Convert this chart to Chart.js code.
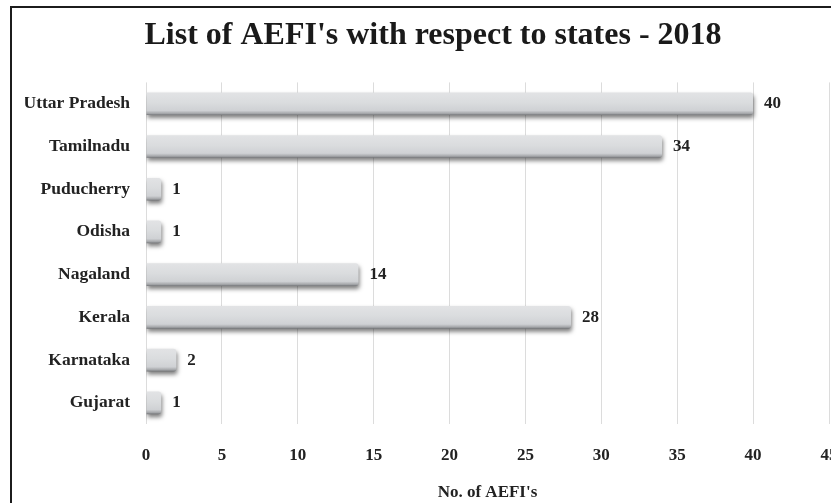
<!DOCTYPE html>
<html>
<head>
<meta charset="utf-8">
<script src="https://cdn.jsdelivr.net/npm/chart.js@4/dist/chart.umd.min.js"></script>
<style>
  html, body { margin: 0; padding: 0; background: #ffffff; overflow: hidden; width: 831px; height: 503px; }
  #frame { position: absolute; left: 10px; top: 6px; width: 847px; height: 497px;
           border-left: 2px solid #1c1c1c; border-top: 2px solid #1c1c1c; background: #fff; }
  #wrap { position: relative; width: 847px; height: 495px; }
</style>
</head>
<body>
<div id="frame"><div id="wrap"><canvas id="c"></canvas></div></div>
<script>
const titleText = "List of AEFI's with respect to states - 2018";
const axisTitle = "No. of AEFI's";
const states = ["Uttar Pradesh", "Tamilnadu", "Puducherry", "Odisha", "Nagaland", "Kerala", "Karnataka", "Gujarat"];
const aefiCounts = [40, 34, 1, 1, 14, 28, 2, 1];
const xTicks = [0, 5, 10, 15, 20, 25, 30, 35, 40, 45];

const FONT = "'Liberation Serif', 'Times New Roman', serif";
const BAR_FRACTION = 0.53;

function barFill(ctx) {
  const chart = ctx.chart;
  const ys = chart.scales && chart.scales.y;
  if (!chart.chartArea || !ys) return '#d6d8db';
  const cy = ys.getPixelForValue(ctx.dataIndex);
  const band = chart.chartArea.height / states.length;
  const half = band * BAR_FRACTION / 2;
  const g = chart.ctx.createLinearGradient(0, cy - half, 0, cy + half);
  g.addColorStop(0, '#e2e3e5');
  g.addColorStop(0.45, '#dadcde');
  g.addColorStop(0.8, '#cfd1d4');
  g.addColorStop(0.93, '#a4a6a9');
  g.addColorStop(1, '#737578');
  return g;
}

const shadowAndLabels = {
  id: 'shadowAndLabels',
  beforeDatasetsDraw(chart) {
    const c = chart.ctx;
    c.save();
    c.shadowColor = 'rgba(0,0,0,0.5)';
    c.shadowBlur = 4;
    c.shadowOffsetX = 1;
    c.shadowOffsetY = 3;
  },
  afterDatasetsDraw(chart) {
    const c = chart.ctx;
    c.restore();
    const meta = chart.getDatasetMeta(0);
    c.save();
    c.font = "bold 17px " + FONT;
    c.fillStyle = '#222222';
    c.textAlign = 'left';
    c.textBaseline = 'middle';
    meta.data.forEach((el, i) => {
      c.fillText(String(aefiCounts[i]), el.x + 11, el.y);
    });
    c.restore();
  }
};

new Chart(document.getElementById('c'), {
  type: 'bar',
  data: {
    labels: states,
    datasets: [{
      data: aefiCounts,
      backgroundColor: barFill,
      borderWidth: 0,
      borderRadius: 3,
      borderSkipped: 'start',
      categoryPercentage: 1,
      barPercentage: BAR_FRACTION
    }]
  },
  options: {
    indexAxis: 'y',
    responsive: true,
    maintainAspectRatio: false,
    animation: false,
    devicePixelRatio: 1,
    layout: { padding: { left: 13, right: 18, top: 0, bottom: 0 } },
    plugins: {
      legend: { display: false },
      tooltip: { enabled: false },
      title: {
        display: true,
        text: titleText,
        color: '#1a1a1a',
        font: { family: FONT, size: 32, weight: 'bold' },
        padding: { top: 9, bottom: 27 }
      }
    },
    scales: {
      x: {
        min: 0,
        max: 45,
        afterBuildTicks: (axis) => { axis.ticks = xTicks.map(v => ({ value: v })); },
        grid: { color: '#dcdcdc', lineWidth: 1, drawTicks: false },
        border: { display: false },
        ticks: {
          color: '#222222',
          font: { family: FONT, size: 17, weight: 'bold' },
          padding: 21.5
        },
        title: {
          display: true,
          text: axisTitle,
          color: '#222222',
          font: { family: FONT, size: 17, weight: 'bold' },
          padding: { top: -5, bottom: 0 }
        }
      },
      y: {
        afterFit: (axis) => { axis.width = 121; },
        grid: { display: false, drawTicks: false },
        border: { display: false },
        ticks: {
          color: '#222222',
          font: { family: FONT, size: 17.5, weight: 'bold' },
          padding: 16
        }
      }
    }
  },
  plugins: [shadowAndLabels]
});
</script>
</body>
</html>
